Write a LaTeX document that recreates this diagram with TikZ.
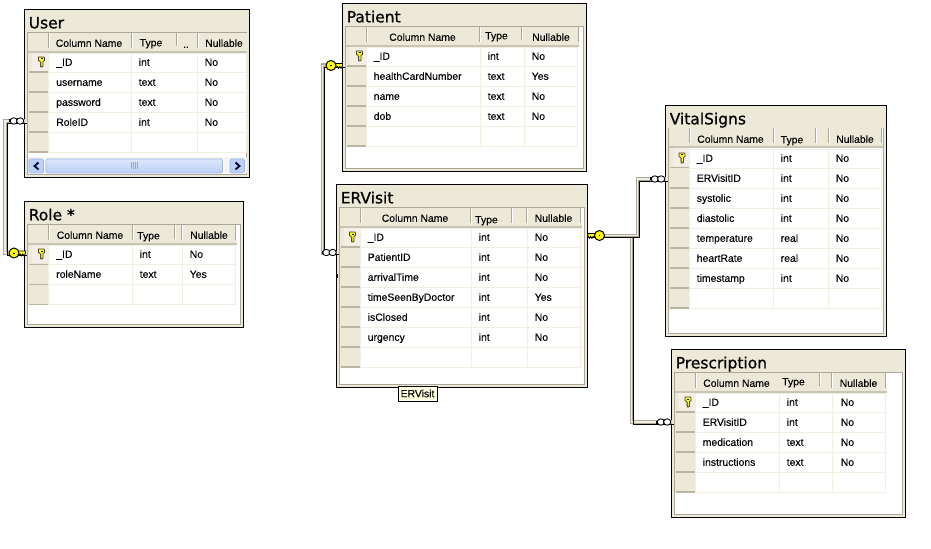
\documentclass[tikz,border=0pt]{standalone}
\usepackage{fontspec}
\setmainfont[FakeBold=0.1]{Liberation Sans}
\newfontfamily\titlefont[FakeBold=0.9]{DejaVu Sans}
\usetikzlibrary{calc}
\definecolor{band}{HTML}{ECE9D8}
\definecolor{edgegrey}{HTML}{ACA899}
\definecolor{rowline}{HTML}{F1EFE2}
\definecolor{firstsel}{HTML}{F5EEE6}
\definecolor{tipfill}{HTML}{FFFFE1}
\definecolor{keyyellow}{HTML}{FFFF00}
\definecolor{barlight}{HTML}{DCE7FC}
\definecolor{barmid}{HTML}{BDD0F8}
\definecolor{bardark}{HTML}{9DB8F0}
\tikzset{
  x=0.75pt,y=-0.75pt,line width=0.75pt,
  tablebox/.style={draw=black,fill=band,inner sep=0pt,outer sep=0pt,anchor=north west},
  titletext/.style={anchor=west,inner sep=0pt,yshift=-1.5pt,font=\titlefont\fontsize{11.6pt}{13pt}\selectfont,text height=8.5pt,text depth=2pt},
  celltext/.style={anchor=west,inner sep=0pt,yshift=-0.6pt,font=\fontsize{7.8pt}{9pt}\selectfont,text height=6pt,text depth=1.5pt},
  headtext/.style={anchor=center,inner sep=0pt,yshift=-0.6pt,font=\fontsize{7.8pt}{9pt}\selectfont,text height=6pt,text depth=1.5pt},
  tipbox/.style={draw=black,fill=tipfill,inner sep=0pt,anchor=north west,font=\fontsize{7.8pt}{9pt}\selectfont},
}
% name, title, left, top, right, bottom (outer)
\newcommand\dbbox[6]{%
  \node[tablebox,minimum width={(#5-#3)*0.75pt},minimum height={(#6-#4)*0.75pt}] (#1) at (#3,#4) {};
  \fill[white] (#3+3,#4+23) rectangle (#5-3,#6-3);
  \draw[edgegrey] (#3+3,#4+23) rectangle (#5-3,#6-3);
  \node[titletext] (#1-title) at (#3+4,#4+12.5) {#2};
}
% left,sel,c1,c2,right,headbottom,nrows,bandright
\newcommand\dbgrid[8]{%
  \fill[band] (#1,{#6-20}) rectangle (#8,#6);
  \fill[edgegrey!55!band] (#1,#6-2) rectangle (#8,#6);
  \foreach \r in {1,...,#7}{
    \pgfmathsetmacro\ya{#6+20*(\r-1)}
    \pgfmathsetmacro\yb{#6+20*\r}
    \fill[band] (#1,\ya) rectangle (#2,\yb);
    \fill[edgegrey!80!band] (#1+0.5,\yb-1.5) rectangle (#2,\yb);
    \draw[rowline] (#2,\yb-0.5) -- (#5,\yb-0.5);
  }
  \fill[firstsel] (#1+4,#6) rectangle (#2,#6+18);
  \fill[edgegrey!80!band] (#1+0.5,#6+18.5) rectangle (#2,#6+20);
  \pgfmathsetmacro\yend{#6+20*#7}
  \draw[rowline] (#2,#6) -- (#2,\yend);
  \draw[rowline] (#3,#6) -- (#3,\yend);
  \draw[rowline] (#4,#6) -- (#4,\yend);
  \draw[rowline] (#5,#6) -- (#5,\yend);
  \draw[rowline] (#2,#6+0.5) -- (#5,#6+0.5);
}
\newcommand\hsep[3]{\draw[edgegrey] (#1,#2-17) -- (#1,#3);\draw[white] (#1+1,#2-17) -- (#1+1,#3);}
\newcommand\dbrow[8]{% prefix, y, x1,x2,x3, a,b,c
  \node[celltext] (#1-a) at (#3,#2) {#6};
  \node[celltext] (#1-b) at (#4,#2) {#7};
  \node[celltext] (#1-c) at (#5,#2) {#8};
}
\newcommand\selkey[2]{%
  \begin{scope}[shift={(#1,#2)}]
    \filldraw[fill=keyyellow,draw=black!75,line width=0.6pt] (-3,-5) -- (2.5,-5) -- (3,-4) -- (3,-1.5) -- (1.5,-0.5) -- (1.5,4) -- (0.5,5) -- (-0.8,5) -- (-1,3.5) -- (-0.5,3) -- (-1.2,2) -- (-0.5,1) -- (-1.5,-0.5) -- (-3,-1.5) -- cycle;
    \fill[black] (-1,-3.5) rectangle (1,-2.8);
  \end{scope}}
% relation key: x y dir(+1 teeth to right, -1 teeth to left)
\newcommand\relkey[3]{%
  \begin{scope}[shift={(#1,#2)},xscale=#3]
    \filldraw[fill=keyyellow,draw=black,line width=0.6pt] (3,-2) -- (11.5,-2) -- (11.5,0.5) -- (10,2.8) -- (8.8,1) -- (7.6,2.8) -- (6.4,1) -- (5,1.5) -- (3,1.5) -- cycle;
    \filldraw[fill=keyyellow,draw=black,line width=0.75pt] (0,0) circle[radius=5];
    \fill[black] (-0.8,-0.5) rectangle (0.8,0.5);
  \end{scope}}
\newcommand\relinf[2]{% x = left, y
  \filldraw[fill=white,draw=black,line width=0.65pt] (#1+4.8,#2) circle[x radius=3.6,y radius=3.2];
  \filldraw[fill=white,draw=black,line width=0.65pt] (#1+11.2,#2) circle[x radius=3.6,y radius=3.2];
  \fill[black] (#1,#2-1.5) rectangle (#1+1.5,#2+1.5);
}
\newcommand\relline[1]{%
  \draw[edgegrey,line width=3pt] #1;
  \draw[rowline,line width=1.1pt] #1;
  \draw[black,line width=0.75pt,transform canvas={xshift=1.6pt,yshift=-1.6pt}] #1;
}
\begin{document}
\begin{tikzpicture}
\useasboundingbox (0,0) rectangle (931,549);
\fill[white] (0,0) rectangle (931,549);

% ---------- User
\dbbox{user}{User}{24.5}{9.5}{249.5}{177.5}
\dbgrid{28}{48.5}{131.5}{197.5}{246.5}{53}{5}{246.5}
\hsep{48}{50}{48}\hsep{131}{50}{48}\hsep{176}{50}{46}\hsep{197}{50}{48}
\node[headtext] (user-h1) at (89,43) {Column Name};
\node[headtext] (user-h2) at (151,42.5) {Type};
\node[headtext] (user-h3) at (186,44) {..};
\node[headtext] (user-h4) at (224,43) {Nullable};
\dbrow{user-r1}{62}{56}{138.5}{204.5}{\_ID}{int}{No}
\dbrow{user-r2}{82}{56}{138.5}{204.5}{username}{text}{No}
\dbrow{user-r3}{102}{56}{138.5}{204.5}{password}{text}{No}
\dbrow{user-r4}{122}{56}{138.5}{204.5}{RoleID}{int}{No}
\selkey{41.5}{62}
% scroll bar
\fill[rowline!60!white] (28,157.5) rectangle (246.5,173.5);
\draw[bardark,fill=barmid,rounded corners=1pt] (29,159) rectangle (43.5,173);
\draw[bardark,top color=barlight,bottom color=barmid,rounded corners=1pt] (46,159) rectangle (222.5,173);
\draw[bardark,fill=barmid,rounded corners=1pt] (230,159) rectangle (244.5,173);
\draw[white] (44.5,159) -- (44.5,173) (223.5,159) -- (223.5,173);
\draw[black!80!blue,line width=1.4pt] (38.5,162.5) -- (34.5,166) -- (38.5,169.5);
\draw[black!80!blue,line width=1.4pt] (235.5,162.5) -- (239.5,166) -- (235.5,169.5);
\foreach \gx in {131,133,135,137}{\draw[white] (\gx,162.5) -- (\gx,169.5);\draw[edgegrey] (\gx+0.75,162.5) -- (\gx+0.75,169.5);}

% ---------- Role
\dbbox{role}{Role *}{24.5}{201.5}{243.5}{327}
\dbgrid{28}{48.5}{132.5}{182.5}{235.5}{245}{3}{237}
\hsep{48}{242}{240}\hsep{132}{242}{240}\hsep{174}{242}{239}\hsep{181.5}{242}{240}\hsep{235.5}{242}{240}
\node[headtext] (role-h1) at (90,235) {Column Name};
\node[headtext] (role-h2) at (148.5,235.5) {Type};
\node[headtext] (role-h4) at (209,235) {Nullable};
\dbrow{role-r1}{254}{56}{139.5}{189.5}{\_ID}{int}{No}
\dbrow{role-r2}{274}{56}{139.5}{189.5}{roleName}{text}{Yes}
\selkey{41.5}{254}

% ---------- Patient
\dbbox{patient}{Patient}{342.5}{3.5}{586.5}{171.5}
\dbgrid{346}{366.5}{480.5}{524.5}{577.5}{47}{5}{579}
\hsep{366}{44}{42}\hsep{479.5}{44}{42}\hsep{521.5}{44}{40}\hsep{578}{44}{42}
\node[headtext] (patient-h1) at (422.5,37) {Column Name};
\node[headtext] (patient-h2) at (496.5,35.5) {Type};
\node[headtext] (patient-h4) at (551,37) {Nullable};
\dbrow{patient-r1}{56}{373.5}{487.5}{531.5}{\_ID}{int}{No}
\dbrow{patient-r2}{76}{373.5}{487.5}{531.5}{healthCardNumber}{text}{Yes}
\dbrow{patient-r3}{96}{373.5}{487.5}{531.5}{name}{text}{No}
\dbrow{patient-r4}{116}{373.5}{487.5}{531.5}{dob}{text}{No}
\selkey{359.5}{56}

% ---------- ERVisit
\dbbox{ervisit}{ERVisit}{336.5}{184.5}{587.5}{387.5}
\dbgrid{340}{360.5}{471.5}{527.5}{580.5}{227.5}{7}{581.5}
\hsep{360}{224.5}{222.5}\hsep{470.5}{224.5}{222.5}\hsep{511.5}{224.5}{222.5}\hsep{526.5}{224.5}{222.5}\hsep{580}{224.5}{222.5}
\node[headtext] (ervisit-h1) at (415,218) {Column Name};
\node[headtext] (ervisit-h2) at (486.5,219.5) {Type};
\node[headtext] (ervisit-h4) at (553.5,218) {Nullable};
\dbrow{ervisit-r1}{237}{367.5}{478.5}{534.5}{\_ID}{int}{No}
\dbrow{ervisit-r2}{257}{367.5}{478.5}{534.5}{PatientID}{int}{No}
\dbrow{ervisit-r3}{277}{367.5}{478.5}{534.5}{arrivalTime}{int}{No}
\dbrow{ervisit-r4}{297}{367.5}{478.5}{534.5}{timeSeenByDoctor}{int}{Yes}
\dbrow{ervisit-r5}{317}{367.5}{478.5}{534.5}{isClosed}{int}{No}
\dbrow{ervisit-r6}{337}{367.5}{478.5}{534.5}{urgency}{int}{No}
\selkey{352.5}{237}
\fill[black] (335.5,273.5) rectangle (337.5,278);
\node[tipbox,minimum width={39.5*0.75pt},minimum height={14.5*0.75pt}] (tip) at (397.5,386) {ERVisit};

% ---------- VitalSigns
\dbbox{vital}{VitalSigns}{665.5}{105.5}{886.5}{336.5}
\dbgrid{669}{689.5}{773.5}{828.5}{881.5}{148.5}{8}{882.5}
\hsep{689}{145.5}{143.5}\hsep{773}{145.5}{143.5}\hsep{815}{145.5}{143.5}\hsep{828}{145.5}{143.5}\hsep{881.5}{145.5}{143.5}
\node[headtext] (vital-h1) at (730.5,139) {Column Name};
\node[headtext] (vital-h2) at (792,139.5) {Type};
\node[headtext] (vital-h4) at (855,139) {Nullable};
\dbrow{vital-r1}{158}{696.5}{780.5}{835.5}{\_ID}{int}{No}
\dbrow{vital-r2}{178}{696.5}{780.5}{835.5}{ERVisitID}{int}{No}
\dbrow{vital-r3}{198}{696.5}{780.5}{835.5}{systolic}{int}{No}
\dbrow{vital-r4}{218}{696.5}{780.5}{835.5}{diastolic}{int}{No}
\dbrow{vital-r5}{238}{696.5}{780.5}{835.5}{temperature}{real}{No}
\dbrow{vital-r6}{258}{696.5}{780.5}{835.5}{heartRate}{real}{No}
\dbrow{vital-r7}{278}{696.5}{780.5}{835.5}{timestamp}{int}{No}
\selkey{682}{158}

% ---------- Prescription
\dbbox{presc}{Prescription}{671.5}{349.5}{905.5}{517.5}
\dbgrid{675}{695.5}{779.5}{832.5}{885.5}{392.5}{5}{887}
\hsep{695}{389.5}{387.5}\hsep{819}{389.5}{385.5}\hsep{831.5}{389.5}{387.5}\hsep{885.5}{389.5}{387.5}
\node[headtext] (presc-h1) at (736.5,383) {Column Name};
\node[headtext] (presc-h2) at (793.5,381.5) {Type};
\node[headtext] (presc-h4) at (858.5,383) {Nullable};
\dbrow{presc-r1}{402}{702.5}{786.5}{840.5}{\_ID}{int}{No}
\dbrow{presc-r2}{422}{702.5}{786.5}{840.5}{ERVisitID}{int}{No}
\dbrow{presc-r3}{442}{702.5}{786.5}{840.5}{medication}{text}{No}
\dbrow{presc-r4}{462}{702.5}{786.5}{840.5}{instructions}{text}{No}
\selkey{688}{402}

% ---------- Connectors
\coordinate (userFK) at (user.west |- 0,121);
\coordinate (rolePK) at (role.west |- 0,253);
\coordinate (patientPK) at (patient.west |- 0,65.5);
\coordinate (visitFK) at (ervisit.west |- 0,252.5);
\coordinate (visitPK) at (ervisit.east |- 0,235.5);
\coordinate (vitalFK) at (vital.west |- 0,179);
\coordinate (prescFK) at (presc.west |- 0,422);
\relline{(userFK) -- ++(-19.5,0) |- (rolePK)}
\relline{(patientPK) -- ++(-20,0) |- (visitFK)}
\relline{(visitPK) ++(44,0) |- (prescFK)}
\relline{(visitPK) -- ++(50,0) |- (vitalFK)}
\relinf{9}{121}
\relkey{14}{253}{1}
\relkey{331}{65.5}{1}
\relinf{321.5}{252.5}
\relkey{599.5}{235.5}{-1}
\relinf{650}{179}
\relinf{656}{422}
\end{tikzpicture}
\end{document}
